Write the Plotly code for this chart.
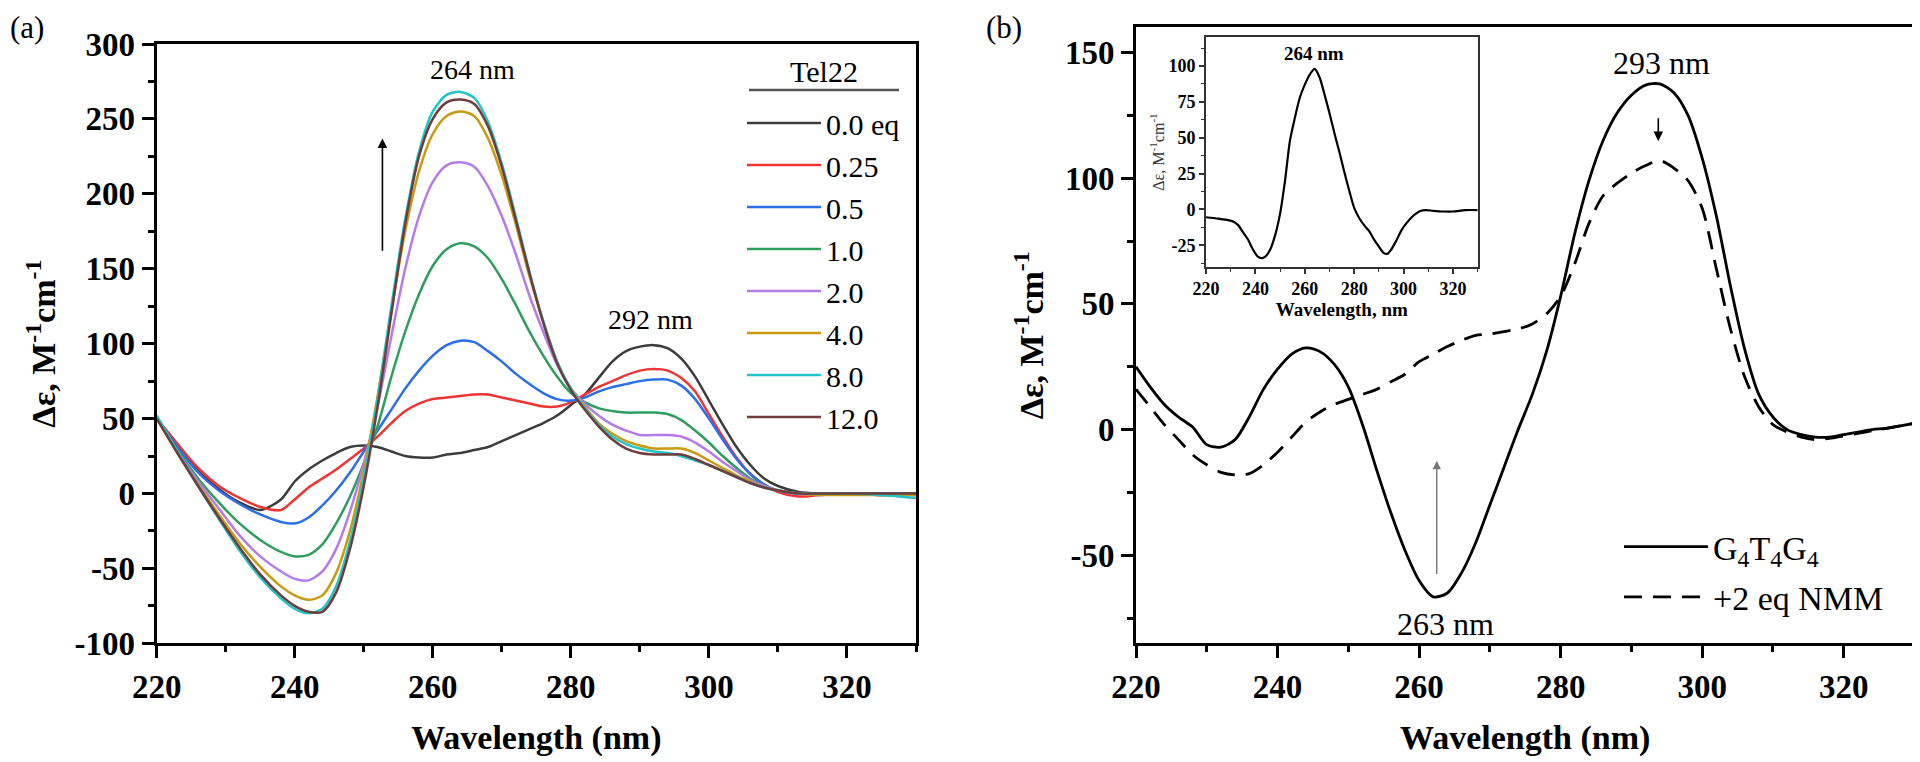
import plotly.graph_objects as go

# page is 1920x762; the html body adds an 8px margin, so the figure is offset by 8px
PAGE_OFF = 8
W, H = 1912, 754
SERIF = "Liberation Serif"

# ---- panel (a): Tel22 + NMM titration ----
wl_a = [220, 223, 226, 229, 232, 235, 238, 240, 242, 244, 246, 248, 250, 252, 254, 256,
        258, 260, 262, 264, 266, 268, 270, 272, 274, 276, 278, 280, 282, 284, 286, 288,
        290, 292, 294, 296, 298, 300, 302, 304, 306, 308, 310, 313, 316, 320, 325, 330]

eq_00 = [50, 33, 16, 3, -6, -11, -4, 8, 16, 22, 27, 31, 32, 31, 28, 25,
         24, 24, 26, 27, 29, 31, 35, 39, 43, 47, 52, 59, 66, 77, 88, 95,
         98, 99, 97, 90, 78, 62, 46, 31, 19, 10, 5, 1, 0, 0, -1, 0]
eq_025 = [50, 33, 17, 5, -3, -9, -11, -4, 4, 10, 16, 23, 30, 38, 47, 55,
          60, 63, 64, 65, 66, 66, 64, 62, 60, 58, 58, 61, 66, 71, 75, 79,
          82, 83, 82, 77, 68, 53, 38, 24, 13, 6, 1, -2, -1, 0, -1, 0]
eq_05 = [50, 31, 14, 2, -7, -14, -19, -20, -16, -8, 2, 14, 28, 42, 56, 70,
         82, 92, 99, 102, 101, 95, 88, 80, 73, 67, 63, 62, 64, 68, 71, 73,
         75, 76, 76, 72, 63, 50, 36, 23, 13, 6, 2, 0, 0, 0, 0, 0]
eq_10 = [50, 29, 10, -6, -20, -31, -39, -42, -41, -34, -20, -2, 20, 45, 78, 108,
         133, 152, 163, 167, 165, 157, 143, 126, 108, 92, 78, 67, 61, 57, 55, 54,
         54, 54, 53, 49, 42, 34, 25, 17, 10, 5, 2, 0, 0, 0, 0, 0]
eq_20 = [50, 28, 8, -10, -28, -42, -52, -57, -58, -52, -37, -12, 20, 58, 105, 150,
         185, 208, 219, 221, 218, 205, 185, 160, 132, 108, 86, 70, 60, 52, 46, 42,
         39, 39, 39, 38, 34, 28, 21, 15, 9, 5, 2, 0, -1, 0, -1, -1]
eq_40 = [50, 27, 6, -14, -33, -49, -62, -68, -71, -68, -53, -25, 15, 65, 122, 175,
         215, 240, 252, 255, 252, 237, 212, 180, 145, 115, 88, 70, 58, 47, 40, 35,
         32, 30, 30, 30, 27, 22, 17, 12, 8, 4, 2, 0, -1, -1, -1, -1]
eq_80 = [52, 28, 5, -17, -38, -56, -70, -77, -80, -77, -62, -32, 10, 63, 125, 183,
         228, 255, 266, 268, 264, 248, 220, 185, 148, 115, 88, 70, 57, 46, 38, 33,
         30, 28, 27, 25, 22, 19, 15, 11, 7, 4, 2, 0, 0, 0, -1, -3]
eq_120 = [50, 27, 5, -16, -36, -54, -68, -75, -79, -79, -66, -37, 5, 58, 120, 180,
          225, 250, 261, 263, 260, 245, 218, 183, 147, 114, 87, 69, 56, 45, 36, 30,
          27, 26, 26, 26, 23, 19, 15, 11, 7, 4, 2, 0, 0, 0, 0, 0]

labels_a = ["0.0 eq", "0.25", "0.5", "1.0", "2.0", "4.0", "8.0", "12.0"]
series_a = [eq_00, eq_025, eq_05, eq_10, eq_20, eq_40, eq_80, eq_120]
colors_a = ["#3c3c3c", "#f03434", "#2a6ee8", "#2e9e5e", "#b57be8", "#c99a12", "#22c4c8", "#6e3d3d"]

# ---- panel (b): G4T4G4 with/without NMM ----
wl_b = [220, 222, 224, 226, 228, 230, 232, 234, 236, 238, 240, 242, 244, 246, 248, 250,
        252, 254, 256, 258, 260, 262, 264, 266, 268, 270, 272, 274, 276, 278, 280, 282,
        284, 286, 288, 290, 292, 294, 296, 298, 300, 302, 304, 306, 308, 310, 312, 314,
        316, 318, 320, 322, 324, 326, 328, 330]
g4t4g4 = [25, 17, 10, 5, 1, -6, -7, -4, 5, 16, 24, 30, 32.5, 31, 26, 17,
          2, -16, -33, -48, -60, -66.5, -65, -57, -45, -30, -15, 0, 14, 31, 53, 78,
          99, 115, 126, 133, 137, 137.5, 134, 125, 108, 85, 57, 32, 14, 5, 0, -2,
          -3, -3, -2, -1, 0, 0.5, 1.5, 2.5]
g4t4g4_nmm = [16, 9, 2, -4, -10, -14, -17, -18, -17.5, -14, -9, -3, 3, 7, 10, 12,
              14, 16, 19, 22, 27, 30, 33, 35.5, 37.5, 38, 39, 40, 42, 46, 53, 66,
              82, 93, 98, 102, 105, 107, 104, 99, 88, 64, 40, 21, 9, 2, -1, -3,
              -4, -3.5, -2.5, -1.5, -0.5, 0.5, 1.5, 2.5]

# ---- inset: difference spectrum ----
wl_c = [220, 225, 229, 231, 233, 235, 237, 239, 241, 242.5, 244, 246, 248, 250, 252, 254,
        256, 258, 260, 262, 264, 266, 268, 270, 272, 274, 276, 278, 280, 282, 284, 286,
        288, 290, 292, 293.5, 295, 297, 299, 301, 303, 305, 307, 309, 312, 316, 320, 325, 330]
diff_c = [-5.5, -6.5, -7.5, -8.5, -11, -16, -21, -28, -33, -34, -33, -28, -18, -3, 20, 48,
          64, 78, 87, 94, 98, 92, 80, 67, 53, 40, 26, 13, 1, -6, -11, -15,
          -21, -26, -30.5, -31, -28, -22, -15, -10, -6, -3, -1, -0.5, -1, -1.5, -1.5, -0.5, -0.5]

# tick labels (hyphen minus, as in the original)
yticks_a = [-100, -50, 0, 50, 100, 150, 200, 250, 300]
yticks_b = [-50, 0, 50, 100, 150]
yticks_c = [-25, 0, 25, 50, 75, 100]

YTITLE = "Δε, M<sup>-1</sup>cm<sup>-1</sup>"


def px(x):
    # page pixel -> paper fraction
    return (x - PAGE_OFF) / W


def py(y):
    return 1 - (y - PAGE_OFF) / H


fig = go.Figure()

for name, vals, color in zip(labels_a, series_a, colors_a):
    fig.add_trace(go.Scatter(
        x=wl_a, y=vals, name=name, mode="lines",
        line=dict(color=color, width=2.5, shape="spline", smoothing=0.8),
        xaxis="x", yaxis="y", legend="legend",
    ))

fig.add_trace(go.Scatter(
    x=wl_b, y=g4t4g4, name="G<sub>4</sub>T<sub>4</sub>G<sub>4</sub>", mode="lines",
    line=dict(color="black", width=2.8, shape="spline", smoothing=0.8),
    xaxis="x2", yaxis="y2", legend="legend2", legendgroup="free",
))
fig.add_trace(go.Scatter(
    x=wl_b, y=g4t4g4_nmm, name="+2 eq NMM", mode="lines",
    line=dict(color="black", width=2.8, dash="18px,11px", shape="spline", smoothing=0.8),
    xaxis="x2", yaxis="y2", legend="legend2", legendgroup="nmm",
))
fig.add_trace(go.Scatter(
    x=wl_c, y=diff_c, mode="lines", showlegend=False,
    line=dict(color="black", width=2.2, shape="spline", smoothing=0.8),
    xaxis="x3", yaxis="y3",
))


def ticks_kw(vals, dtick):
    if vals is None:
        return dict(dtick=dtick, tick0=0)
    return dict(tickmode="array", tickvals=vals, ticktext=[str(v) for v in vals])


def main_axis(domain, rng, dtick, minor, title, standoff, vals=None, **kw):
    return dict(
        domain=domain, range=rng, automargin=False, **ticks_kw(vals, dtick),
        showline=True, linecolor="black", linewidth=3, mirror=True,
        ticks="outside", ticklen=12, tickwidth=3, tickcolor="black",
        minor=dict(tickmode="linear", tick0=0, dtick=minor, ticks="outside",
                   ticklen=6, tickwidth=2.5, tickcolor="black"),
        tickfont=dict(family=SERIF, size=33, color="black", weight="bold"),
        title=dict(text=title, standoff=standoff,
                   font=dict(family=SERIF, size=34, color="black", weight="bold")),
        showgrid=False, zeroline=False, **kw)


def inset_axis(domain, rng, dtick, minor, title, tfont, standoff, vals=None, **kw):
    return dict(
        domain=domain, range=rng, automargin=False, **ticks_kw(vals, dtick),
        showline=True, linecolor="#333", linewidth=1.6, mirror=True,
        ticks="outside", ticklen=5, tickwidth=1.5, tickcolor="#333",
        minor=dict(tickmode="linear", tick0=0, dtick=minor, ticks="outside",
                   ticklen=3, tickwidth=1.2, tickcolor="#333"),
        tickfont=dict(family=SERIF, size=18, color="black", weight="bold"),
        title=dict(text=title, standoff=standoff, font=tfont),
        showgrid=False, zeroline=False, **kw)


top_a, top_b, bottom = py(44), py(27.3), py(643.3)

fig.update_layout(
    width=W, height=H,
    margin=dict(l=0, r=0, t=0, b=0, autoexpand=False),
    paper_bgcolor="white", plot_bgcolor="white",
    font=dict(family=SERIF, color="black"),
    xaxis=main_axis([px(156.7), px(916)], [220, 330], 20, 10, "Wavelength (nm)", 22, anchor="y"),
    yaxis=main_axis([bottom, top_a], [-100, 300], 50, 25, YTITLE, 9, vals=yticks_a, anchor="x"),
    xaxis2=main_axis([px(1136), px(1914.5)], [220, 330], 20, 10, "Wavelength (nm)", 22, anchor="y2"),
    yaxis2=main_axis([bottom, top_b], [-85, 160], 50, 25, YTITLE, 11, vals=yticks_b, anchor="x2"),
    xaxis3=inset_axis([px(1206), px(1477.7)], [220, 330], 20, 10, "Wavelength, nm",
                      dict(family=SERIF, size=19, color="black", weight="bold"), 4, anchor="y3"),
    yaxis3=inset_axis([py(266.7), py(37.3)], [-40, 120], 25, 12.5, YTITLE,
                      dict(family=SERIF, size=16, color="#333"), 0, vals=yticks_c, anchor="x3"),
    legend=dict(
        x=px(742), y=py(97), xanchor="left", yanchor="top",
        bgcolor="rgba(0,0,0,0)", borderwidth=0, itemwidth=74,
        font=dict(family=SERIF, size=30, color="black"),
    ),
    legend2=dict(
        x=px(1619), y=py(518), xanchor="left", yanchor="top",
        bgcolor="rgba(0,0,0,0)", borderwidth=0, itemwidth=84, tracegroupgap=3,
        font=dict(family=SERIF, size=34, color="black"),
    ),
    shapes=[dict(type="line", xref="paper", yref="paper",
                 x0=px(749), x1=px(899), y0=py(90), y1=py(90),
                 line=dict(color="#555", width=2.5))],
)

ann = [
    dict(text="(a)", x=px(8), y=1, xanchor="left", yanchor="top", font=dict(size=31)),
    dict(text="(b)", x=px(984), y=1, xanchor="left", yanchor="top", font=dict(size=31)),
    dict(text="Tel22", x=px(824), y=py(72), font=dict(size=30)),
    dict(text="264 nm", xref="x", yref="y", x=265.7, y=283, font=dict(size=28)),
    dict(text="292 nm", xref="x", yref="y", x=291.5, y=116, font=dict(size=28)),
    dict(text="293 nm", xref="x2", yref="y2", x=294.2, y=146, font=dict(size=32)),
    dict(text="263 nm", xref="x2", yref="y2", x=263.7, y=-77.5, font=dict(size=32)),
    dict(text="264 nm", xref="x3", yref="y3", x=263.7, y=108.6,
         font=dict(size=19, weight="bold")),
]
for a in ann:
    a.setdefault("xref", "paper")
    a.setdefault("yref", "paper")
    a.setdefault("xanchor", "center")
    a.setdefault("yanchor", "middle")
    a["showarrow"] = False
    a["font"] = dict(family=SERIF, color="black", **a["font"])
    fig.add_annotation(**a)

# arrows
arrows = [
    ("x", "y", 252.7, 237, 161, "black", 1.6),
    ("x2", "y2", 293.8, 114.7, 124.4, "black", 1.6),
    ("x2", "y2", 262.5, -12.4, -58, "#777", 1.4),
]
for xr, yr, xv, tip, tail, col, w in arrows:
    fig.add_annotation(
        xref=xr, yref=yr, axref=xr, ayref=yr, x=xv, y=tip, ax=xv, ay=tail,
        text="", showarrow=True, arrowhead=2, arrowsize=1.2, arrowwidth=w, arrowcolor=col,
    )

fig.write_html("out.html")
